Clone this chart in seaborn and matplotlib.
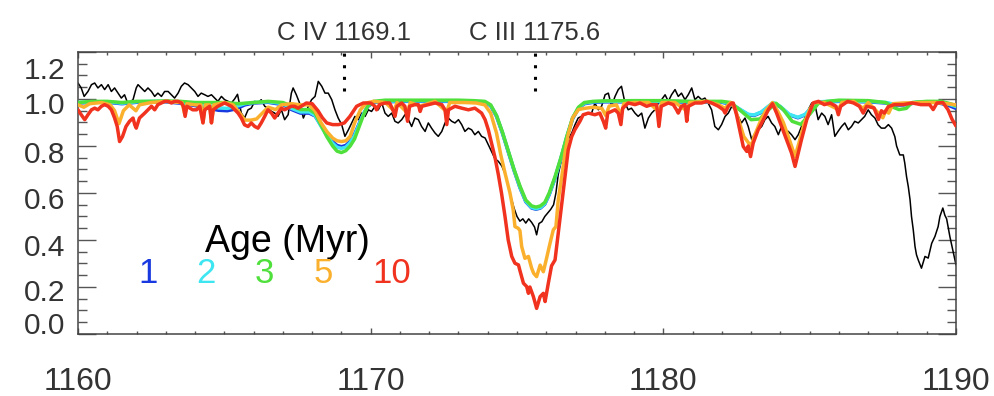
import numpy as np
import pandas as pd
import matplotlib
matplotlib.use("Agg")
import matplotlib.pyplot as plt
import seaborn as sns
from matplotlib.ticker import MultipleLocator
from matplotlib.transforms import ScaledTranslation

# --------------------------------------------
# Data
# --------------------------------------------
ages = [1, 2, 3, 5, 10]
age_colors = ["#1838e0", "#3ee6f2", "#4fe03c", "#fbb02d", "#f0321e"]

line_names = ["C IV", "C III"]
line_waves = [1169.1, 1175.6]

x_ticks = [1160, 1170, 1180, 1190]
y_ticks = [0.0, 0.2, 0.4, 0.6, 0.8, 1.0, 1.2]

# observed spectrum (black)
obs_wave = [
    1160.00, 1160.11, 1160.21, 1160.34, 1160.46, 1160.57, 1160.68, 1160.80, 1160.91, 1161.03,
    1161.14, 1161.25, 1161.37, 1161.48, 1161.59, 1161.69, 1161.80, 1161.88, 1161.99, 1162.05,
    1162.16, 1162.28, 1162.39, 1162.51, 1162.62, 1162.73, 1162.85, 1162.96, 1163.08, 1163.19,
    1163.30, 1163.42, 1163.53, 1163.64, 1163.76, 1163.87, 1163.99, 1164.10, 1164.21, 1164.33,
    1164.44, 1164.56, 1164.67, 1164.78, 1164.90, 1165.01, 1165.13, 1165.24, 1165.35, 1165.45,
    1165.58, 1165.69, 1165.81, 1165.92, 1166.04, 1166.15, 1166.26, 1166.38, 1166.49, 1166.61,
    1166.72, 1166.83, 1166.95, 1167.06, 1167.18, 1167.29, 1167.35, 1167.46, 1167.57, 1167.70,
    1167.87, 1167.98, 1168.10, 1168.21, 1168.33, 1168.44, 1168.55, 1168.67, 1168.78, 1168.89,
    1169.01, 1169.12, 1169.24, 1169.35, 1169.46, 1169.58, 1169.69, 1169.81, 1169.92, 1170.03,
    1170.15, 1170.26, 1170.38, 1170.49, 1170.60, 1170.72, 1170.83, 1170.94, 1171.06, 1171.17,
    1171.29, 1171.40, 1171.51, 1171.63, 1171.74, 1171.86, 1171.97, 1172.08, 1172.20, 1172.31,
    1172.43, 1172.54, 1172.65, 1172.77, 1172.88, 1173.00, 1173.11, 1173.22, 1173.34, 1173.45,
    1173.56, 1173.68, 1173.79, 1173.91, 1174.02, 1174.13, 1174.25, 1174.36, 1174.48, 1174.60,
    1174.70, 1174.80, 1174.90, 1175.00, 1175.10, 1175.20, 1175.30, 1175.40, 1175.50, 1175.60,
    1175.67, 1175.75, 1175.85, 1175.95, 1176.05, 1176.15, 1176.25, 1176.33, 1176.41, 1176.52,
    1176.64, 1176.75, 1176.87, 1176.98, 1177.09, 1177.20, 1177.32, 1177.44, 1177.55, 1177.66,
    1177.78, 1177.89, 1178.01, 1178.12, 1178.23, 1178.35, 1178.46, 1178.57, 1178.69, 1178.80,
    1178.91, 1179.03, 1179.14, 1179.26, 1179.37, 1179.49, 1179.60, 1179.71, 1179.83, 1179.94,
    1180.06, 1180.17, 1180.28, 1180.40, 1180.51, 1180.62, 1180.74, 1180.85, 1180.97, 1181.08,
    1181.19, 1181.31, 1181.42, 1181.53, 1181.65, 1181.76, 1181.88, 1181.99, 1182.11, 1182.22,
    1182.34, 1182.45, 1182.56, 1182.67, 1182.79, 1182.90, 1183.02, 1183.13, 1183.24, 1183.36,
    1183.47, 1183.58, 1183.70, 1183.81, 1183.93, 1184.04, 1184.15, 1184.27, 1184.38, 1184.50,
    1184.61, 1184.72, 1184.84, 1184.95, 1185.07, 1185.18, 1185.29, 1185.41, 1185.52, 1185.63,
    1185.75, 1185.86, 1185.97, 1186.09, 1186.20, 1186.32, 1186.43, 1186.54, 1186.66, 1186.77,
    1186.88, 1187.00, 1187.11, 1187.23, 1187.34, 1187.45, 1187.57, 1187.69, 1187.80, 1187.91,
    1187.97, 1188.03, 1188.08, 1188.20, 1188.25, 1188.31, 1188.37, 1188.43, 1188.48, 1188.54,
    1188.60, 1188.65, 1188.71, 1188.82, 1188.94, 1189.05, 1189.17, 1189.28, 1189.39, 1189.45,
    1189.55, 1189.62, 1189.68, 1189.79, 1189.91, 1190.00,
]
obs_flux = [
    1.068, 1.047, 1.011, 1.032, 1.061, 1.068, 1.047, 1.061, 1.040, 1.061,
    1.032, 1.047, 1.025, 1.004, 1.018, 0.985, 0.990, 0.997, 1.047, 1.061,
    1.047, 1.032, 1.047, 1.032, 1.011, 1.025, 1.011, 1.032, 1.032, 1.018,
    1.004, 1.025, 1.054, 1.068, 1.061, 1.047, 1.032, 1.011, 1.025, 1.018,
    1.011, 1.018, 1.004, 0.990, 1.011, 0.997, 0.990, 0.983, 1.000, 1.020,
    0.940, 0.919, 0.954, 0.961, 0.990, 0.983, 0.997, 0.969, 0.961, 0.947,
    0.940, 0.926, 0.954, 0.912, 0.933, 1.025, 1.047, 1.018, 0.983, 0.919,
    0.969, 0.997, 1.011, 1.075, 1.054, 1.025, 1.025, 0.997, 0.954, 0.919,
    0.891, 0.841, 0.869, 0.898, 0.926, 0.912, 0.940, 0.926, 0.954, 0.947,
    0.969, 0.954, 0.983, 0.940, 0.926, 0.940, 0.905, 0.898, 0.912, 0.933,
    0.912, 0.883, 0.919, 0.912, 0.883, 0.862, 0.898, 0.876, 0.855, 0.841,
    0.862, 0.898, 0.919, 0.905, 0.898, 0.912, 0.891, 0.862, 0.876, 0.869,
    0.848, 0.862, 0.841, 0.834, 0.805, 0.777, 0.745, 0.735, 0.715, 0.680,
    0.630, 0.580, 0.535, 0.500, 0.480, 0.490, 0.472, 0.490, 0.475, 0.455,
    0.422, 0.470, 0.478, 0.500, 0.515, 0.530, 0.550, 0.600, 0.680, 0.740,
    0.798, 0.830, 0.855, 0.890, 0.919, 0.926, 0.933, 0.937, 0.940, 0.983,
    0.954, 0.969, 1.018, 1.025, 0.969, 1.011, 1.040, 1.054, 0.983, 0.954,
    0.961, 0.940, 0.926, 0.940, 0.876, 0.919, 0.940, 0.954, 0.983, 0.997,
    1.018, 0.990, 1.018, 1.040, 1.011, 1.025, 0.997, 1.018, 1.047, 0.997,
    1.011, 0.997, 1.004, 0.983, 0.954, 0.883, 0.869, 0.891, 0.926, 0.940,
    0.969, 0.954, 0.926, 0.898, 0.919, 0.883, 0.827, 0.855, 0.869, 0.883,
    0.912, 0.926, 0.898, 0.883, 0.848, 0.883, 0.869, 0.862, 0.848, 0.827,
    0.848, 0.883, 0.919, 0.954, 0.983, 0.976, 0.912, 0.940, 0.926, 0.891,
    0.933, 0.841, 0.862, 0.883, 0.898, 0.869, 0.883, 0.905, 0.898, 0.912,
    0.926, 0.954, 0.933, 0.919, 0.890, 0.876, 0.876, 0.891, 0.876, 0.840,
    0.800, 0.780, 0.762, 0.762, 0.727, 0.670, 0.627, 0.571, 0.500, 0.443,
    0.372, 0.337, 0.315, 0.280, 0.330, 0.323, 0.386, 0.415, 0.457, 0.500,
    0.536, 0.505, 0.490, 0.415, 0.345, 0.294,
]

# model spectra, one pair of lists per age
blue_wave = [
    1160.0, 1160.5, 1161.0, 1161.5, 1162.0, 1162.5, 1163.0, 1163.5, 1164.0, 1164.4,
    1164.8, 1165.1, 1165.4, 1165.7, 1166.0, 1166.5, 1167.0, 1167.3, 1167.6, 1167.9,
    1168.1, 1168.3, 1168.5, 1168.7, 1168.85, 1169.0, 1169.15, 1169.3, 1169.45, 1169.6,
    1169.75, 1169.9, 1170.1, 1171.0, 1172.0, 1173.0, 1173.5, 1173.9, 1174.1, 1174.3,
    1174.5, 1174.7, 1174.9, 1175.1, 1175.3, 1175.5, 1175.65, 1175.8, 1175.95, 1176.1,
    1176.3, 1176.5, 1176.7, 1176.9, 1177.1, 1177.3, 1177.6, 1178.0, 1179.0, 1180.0,
    1181.0, 1182.0, 1182.3, 1182.6, 1182.9, 1183.1, 1183.35, 1183.6, 1183.75, 1184.0,
    1184.3, 1184.6, 1184.85, 1185.1, 1185.3, 1186.0, 1187.0, 1187.6, 1188.0, 1188.3,
    1188.7, 1189.3, 1189.7, 1190.0,
]
blue_flux = [
    0.983, 0.986, 0.986, 0.980, 0.986, 0.988, 0.988, 0.982, 0.972, 0.962,
    0.952, 0.950, 0.958, 0.975, 0.983, 0.986, 0.976, 0.955, 0.940, 0.940,
    0.928, 0.888, 0.850, 0.818, 0.802, 0.797, 0.802, 0.820, 0.850, 0.893,
    0.936, 0.968, 0.986, 0.990, 0.990, 0.990, 0.988, 0.986, 0.971, 0.926,
    0.856, 0.776, 0.696, 0.623, 0.563, 0.536, 0.531, 0.536, 0.553, 0.593,
    0.663, 0.746, 0.836, 0.916, 0.960, 0.980, 0.986, 0.988, 0.988, 0.988,
    0.986, 0.986, 0.978, 0.956, 0.933, 0.930, 0.943, 0.968, 0.983, 0.966,
    0.933, 0.920, 0.933, 0.968, 0.986, 0.990, 0.988, 0.983, 0.973, 0.976,
    0.986, 0.986, 0.975, 0.960,
]

cyan_wave = [
    1160.0, 1160.5, 1161.0, 1161.5, 1162.0, 1162.5, 1163.0, 1163.5, 1164.0, 1164.5,
    1164.8, 1165.1, 1165.4, 1165.7, 1166.0, 1166.5, 1167.0, 1167.3, 1167.6, 1167.9,
    1168.1, 1168.3, 1168.5, 1168.7, 1168.85, 1169.0, 1169.15, 1169.3, 1169.45, 1169.6,
    1169.75, 1169.9, 1170.1, 1171.0, 1172.0, 1173.0, 1173.5, 1173.9, 1174.1, 1174.3,
    1174.5, 1174.7, 1174.9, 1175.1, 1175.3, 1175.5, 1175.65, 1175.8, 1175.95, 1176.1,
    1176.3, 1176.5, 1176.7, 1176.9, 1177.1, 1177.3, 1177.6, 1178.0, 1179.0, 1180.0,
    1181.0, 1182.0, 1182.3, 1182.6, 1182.9, 1183.1, 1183.35, 1183.6, 1183.75, 1184.0,
    1184.3, 1184.6, 1184.85, 1185.1, 1185.3, 1186.0, 1187.0, 1187.6, 1188.0, 1188.3,
    1188.7, 1189.3, 1189.7, 1190.0,
]
cyan_flux = [
    0.985, 0.988, 0.988, 0.982, 0.988, 0.990, 0.990, 0.985, 0.978, 0.972,
    0.962, 0.960, 0.968, 0.980, 0.985, 0.988, 0.980, 0.960, 0.945, 0.945,
    0.930, 0.885, 0.845, 0.812, 0.795, 0.790, 0.795, 0.815, 0.845, 0.890,
    0.935, 0.970, 0.988, 0.992, 0.992, 0.992, 0.990, 0.988, 0.973, 0.928,
    0.858, 0.778, 0.698, 0.625, 0.565, 0.538, 0.533, 0.538, 0.555, 0.595,
    0.665, 0.748, 0.838, 0.918, 0.962, 0.982, 0.988, 0.990, 0.990, 0.990,
    0.988, 0.988, 0.980, 0.958, 0.935, 0.932, 0.945, 0.970, 0.985, 0.968,
    0.935, 0.922, 0.935, 0.970, 0.988, 0.992, 0.990, 0.985, 0.975, 0.978,
    0.988, 0.988, 0.980, 0.968,
]

green_wave = [
    1160.0, 1160.5, 1161.0, 1161.5, 1162.0, 1162.5, 1163.0, 1163.5, 1164.0, 1164.5,
    1165.0, 1165.5, 1166.0, 1166.5, 1167.0, 1167.3, 1167.6, 1167.9, 1168.1, 1168.3,
    1168.5, 1168.7, 1168.85, 1169.0, 1169.15, 1169.3, 1169.45, 1169.6, 1169.75, 1169.9,
    1170.1, 1170.5, 1171.0, 1172.0, 1173.0, 1173.5, 1173.9, 1174.1, 1174.3, 1174.5,
    1174.7, 1174.9, 1175.1, 1175.3, 1175.5, 1175.65, 1175.8, 1175.95, 1176.1, 1176.3,
    1176.5, 1176.7, 1176.9, 1177.1, 1177.3, 1177.6, 1178.0, 1179.0, 1180.0, 1181.0,
    1182.0, 1182.3, 1182.6, 1183.0, 1183.3, 1183.6, 1183.85, 1184.1, 1184.4, 1184.7,
    1185.0, 1185.3, 1185.6, 1186.0, 1187.0, 1187.6, 1187.85, 1188.05, 1188.3, 1188.5,
    1189.0, 1189.5, 1189.8, 1190.0,
]
green_flux = [
    0.985, 0.990, 0.990, 0.985, 0.990, 0.990, 0.992, 0.990, 0.985, 0.985,
    0.985, 0.980, 0.985, 0.990, 0.985, 0.970, 0.955, 0.955, 0.940, 0.890,
    0.840, 0.800, 0.778, 0.772, 0.780, 0.800, 0.830, 0.880, 0.930, 0.970,
    0.990, 0.995, 0.995, 0.995, 0.995, 0.993, 0.990, 0.975, 0.930, 0.860,
    0.780, 0.700, 0.630, 0.570, 0.545, 0.540, 0.545, 0.560, 0.600, 0.670,
    0.750, 0.840, 0.920, 0.965, 0.985, 0.990, 0.992, 0.993, 0.993, 0.990,
    0.990, 0.985, 0.955, 0.912, 0.915, 0.955, 0.982, 0.955, 0.905, 0.892,
    0.935, 0.982, 0.990, 0.995, 0.993, 0.985, 0.965, 0.955, 0.960, 0.985,
    0.990, 0.990, 0.980, 0.972,
]

orange_wave = [
    1160.00, 1160.20, 1160.40, 1160.80, 1161.10, 1161.25, 1161.40, 1161.55, 1161.75, 1161.98,
    1162.10, 1162.50, 1163.00, 1163.55, 1163.65, 1163.72, 1164.00, 1164.20, 1164.27, 1164.35,
    1164.50, 1164.56, 1164.64, 1165.00, 1165.30, 1165.50, 1165.70, 1165.90, 1166.10, 1166.30,
    1166.50, 1166.75, 1166.95, 1167.30, 1167.60, 1167.90, 1168.10, 1168.30, 1168.50, 1168.70,
    1168.85, 1169.00, 1169.15, 1169.30, 1169.45, 1169.65, 1169.85, 1170.10, 1170.50, 1170.80,
    1170.90, 1171.26, 1171.35, 1171.70, 1172.20, 1172.60, 1172.70, 1173.20, 1173.60, 1173.90,
    1174.10, 1174.30, 1174.45, 1174.60, 1174.76, 1174.87, 1174.93, 1175.04, 1175.10, 1175.16,
    1175.27, 1175.39, 1175.50, 1175.57, 1175.67, 1175.79, 1175.90, 1176.01, 1176.13, 1176.24,
    1176.33, 1176.41, 1176.53, 1176.64, 1176.75, 1176.90, 1177.10, 1177.30, 1177.60, 1177.90,
    1178.03, 1178.15, 1178.40, 1178.55, 1178.65, 1179.00, 1179.50, 1179.85, 1179.95, 1180.40,
    1180.80, 1180.90, 1181.50, 1181.90, 1182.10, 1182.30, 1182.45, 1182.60, 1182.75, 1182.90,
    1183.00, 1183.10, 1183.30, 1183.50, 1183.73, 1183.90, 1184.10, 1184.30, 1184.50, 1184.65,
    1184.80, 1185.00, 1185.15, 1185.50, 1185.98, 1186.10, 1186.50, 1186.83, 1187.00, 1187.35,
    1187.50, 1187.60, 1187.70, 1187.85, 1188.20, 1188.80, 1189.30, 1189.70, 1190.00,
]
orange_flux = [
    0.975, 0.965, 0.980, 0.985, 0.975, 0.950, 0.895, 0.950, 0.975, 0.950,
    0.975, 0.985, 0.990, 0.985, 0.935, 0.980, 0.975, 0.975, 0.900, 0.975,
    0.975, 0.900, 0.975, 0.985, 0.975, 0.945, 0.910, 0.910, 0.915, 0.940,
    0.965, 0.955, 0.975, 0.980, 0.975, 0.975, 0.950, 0.900, 0.862, 0.834,
    0.822, 0.819, 0.822, 0.841, 0.898, 0.954, 0.983, 0.990, 0.985, 0.950,
    0.985, 0.940, 0.985, 0.970, 0.990, 0.945, 0.985, 0.985, 0.983, 0.975,
    0.940, 0.855, 0.760, 0.680, 0.600, 0.528, 0.457, 0.450, 0.440, 0.372,
    0.322, 0.330, 0.280, 0.258, 0.244, 0.293, 0.265, 0.322, 0.387, 0.443,
    0.457, 0.571, 0.670, 0.770, 0.850, 0.920, 0.955, 0.960, 0.965, 0.960,
    0.930, 0.970, 0.975, 0.930, 0.980, 0.985, 0.985, 0.945, 0.985, 0.985,
    0.950, 0.985, 0.990, 0.975, 0.960, 0.985, 0.960, 0.900, 0.840, 0.815,
    0.800, 0.840, 0.900, 0.950, 0.985, 0.950, 0.900, 0.830, 0.755, 0.820,
    0.890, 0.955, 0.985, 0.985, 0.955, 0.985, 0.990, 0.960, 0.985, 0.940,
    0.920, 0.950, 0.940, 0.980, 0.983, 0.985, 0.985, 0.980, 0.975,
]

red_wave = [
    1160.00, 1160.11, 1160.23, 1160.34, 1160.46, 1160.57, 1160.68, 1160.80, 1160.91, 1161.03,
    1161.14, 1161.25, 1161.34, 1161.42, 1161.52, 1161.64, 1161.76, 1161.88, 1161.94, 1161.99,
    1162.10, 1162.28, 1162.39, 1162.51, 1162.62, 1162.73, 1162.85, 1162.96, 1163.08, 1163.19,
    1163.30, 1163.42, 1163.53, 1163.60, 1163.66, 1163.72, 1163.92, 1164.05, 1164.16, 1164.27,
    1164.33, 1164.50, 1164.56, 1164.62, 1164.78, 1165.01, 1165.24, 1165.47, 1165.58, 1165.69,
    1165.81, 1165.92, 1166.04, 1166.15, 1166.26, 1166.38, 1166.49, 1166.61, 1166.72, 1166.83,
    1166.95, 1167.06, 1167.29, 1167.40, 1167.52, 1167.63, 1167.80, 1168.00, 1168.20, 1168.35,
    1168.50, 1168.70, 1168.90, 1169.10, 1169.29, 1169.52, 1169.75, 1170.00, 1170.15, 1170.20,
    1170.30, 1170.49, 1170.65, 1170.77, 1170.83, 1170.90, 1171.06, 1171.17, 1171.26, 1171.33,
    1171.51, 1171.63, 1171.69, 1171.75, 1171.97, 1172.20, 1172.43, 1172.54, 1172.60, 1172.66,
    1172.88, 1173.11, 1173.34, 1173.56, 1173.79, 1173.91, 1174.02, 1174.13, 1174.25, 1174.36,
    1174.47, 1174.59, 1174.70, 1174.82, 1174.93, 1175.05, 1175.10, 1175.22, 1175.33, 1175.39,
    1175.44, 1175.56, 1175.67, 1175.79, 1175.90, 1175.96, 1176.07, 1176.18, 1176.30, 1176.41,
    1176.53, 1176.64, 1176.75, 1176.87, 1176.98, 1177.15, 1177.26, 1177.44, 1177.66, 1177.83,
    1177.95, 1178.03, 1178.10, 1178.35, 1178.46, 1178.55, 1178.61, 1178.80, 1179.03, 1179.20,
    1179.43, 1179.60, 1179.77, 1179.85, 1179.93, 1180.17, 1180.34, 1180.45, 1180.51, 1180.62,
    1180.74, 1180.80, 1180.86, 1181.08, 1181.31, 1181.48, 1181.65, 1181.88, 1182.05, 1182.11,
    1182.22, 1182.34, 1182.39, 1182.50, 1182.62, 1182.73, 1182.85, 1182.90, 1182.98, 1183.07,
    1183.24, 1183.42, 1183.59, 1183.73, 1183.87, 1184.04, 1184.21, 1184.38, 1184.50, 1184.61,
    1184.72, 1184.90, 1185.12, 1185.30, 1185.50, 1185.70, 1185.90, 1185.98, 1186.06, 1186.30,
    1186.50, 1186.70, 1186.83, 1186.95, 1187.20, 1187.35, 1187.45, 1187.55, 1187.69, 1187.90,
    1188.20, 1188.50, 1188.80, 1189.10, 1189.22, 1189.35, 1189.55, 1189.73, 1189.86, 1190.00,
]
red_flux = [
    0.954, 0.933, 0.912, 0.933, 0.954, 0.961, 0.954, 0.969, 0.976, 0.969,
    0.954, 0.919, 0.883, 0.819, 0.840, 0.883, 0.905, 0.919, 0.890, 0.876,
    0.919, 0.940, 0.954, 0.969, 0.954, 0.976, 0.983, 0.990, 0.990, 0.983,
    0.990, 0.990, 0.983, 0.969, 0.926, 0.969, 0.954, 0.954, 0.969, 0.898,
    0.954, 0.969, 0.898, 0.954, 0.969, 0.983, 0.969, 0.940, 0.919, 0.890,
    0.883, 0.898, 0.883, 0.876, 0.898, 0.926, 0.954, 0.940, 0.919, 0.940,
    0.961, 0.954, 0.969, 0.969, 0.961, 0.969, 0.983, 0.980, 0.950, 0.920,
    0.898, 0.891, 0.891, 0.898, 0.926, 0.969, 0.983, 0.983, 0.969, 0.954,
    0.976, 0.983, 0.983, 0.950, 0.926, 0.969, 0.983, 0.969, 0.905, 0.969,
    0.976, 0.976, 0.947, 0.969, 0.976, 0.983, 0.976, 0.954, 0.891, 0.954,
    0.969, 0.961, 0.954, 0.961, 0.940, 0.912, 0.869, 0.812, 0.750, 0.680,
    0.600, 0.500, 0.400, 0.330, 0.301, 0.294, 0.270, 0.216, 0.202, 0.173,
    0.200, 0.159, 0.109, 0.159, 0.173, 0.138, 0.216, 0.290, 0.315, 0.430,
    0.557, 0.670, 0.784, 0.840, 0.870, 0.905, 0.933, 0.940, 0.933, 0.940,
    0.905, 0.876, 0.940, 0.954, 0.940, 0.891, 0.960, 0.983, 0.976, 0.983,
    0.969, 0.976, 0.976, 0.883, 0.969, 0.983, 0.976, 0.954, 0.940, 0.969,
    0.976, 0.905, 0.969, 0.983, 0.983, 0.990, 0.983, 0.969, 0.954, 0.940,
    0.969, 0.983, 0.983, 0.933, 0.862, 0.798, 0.777, 0.800, 0.755, 0.812,
    0.869, 0.912, 0.955, 0.980, 0.940, 0.883, 0.827, 0.770, 0.713, 0.770,
    0.827, 0.912, 0.983, 0.990, 0.976, 0.983, 0.969, 0.933, 0.969, 0.990,
    0.983, 0.969, 0.940, 0.969, 0.962, 0.913, 0.950, 0.940, 0.968, 0.976,
    0.976, 0.983, 0.976, 0.976, 0.955, 0.983, 0.985, 0.954, 0.915, 0.885,
]

model_waves = [blue_wave, cyan_wave, green_wave, orange_wave, red_wave]
model_fluxes = [blue_flux, cyan_flux, green_flux, orange_flux, red_flux]

# --------------------------------------------
# Build tables
# --------------------------------------------
models = pd.concat(
    [pd.DataFrame({"wave": w, "flux": f, "age": a})
     for a, w, f in zip(ages, model_waves, model_fluxes)],
    ignore_index=True,
)
obs = pd.DataFrame({"wave": obs_wave, "flux": obs_flux})

# --------------------------------------------
# Plot
# --------------------------------------------
sns.set_theme(style="ticks")
plt.rcParams["font.family"] = ["Liberation Sans", "DejaVu Sans"]

fig = plt.figure(figsize=(9.95, 3.96), dpi=100)
ax = fig.add_axes([0.0784, 0.1566, 0.8824, 0.7121])

sns.lineplot(data=obs, x="wave", y="flux", color="black", lw=1.1,
             estimator=None, sort=False, ax=ax, zorder=2)
sns.lineplot(data=models, x="wave", y="flux", hue="age", hue_order=ages,
             palette=dict(zip(ages, age_colors)), lw=2.5, estimator=None,
             sort=False, legend=False, ax=ax, zorder=3)

ax.set_xlim(1160, 1190)
ax.set_ylim(0, 1.2)
ax.set_xlabel("")
ax.set_ylabel("")

# line markers and labels above the frame
for name, w in zip(line_names, line_waves):
    ax.axvline(w, ymin=0.862, ymax=1.0, color="black", lw=2.2,
               ls=(0, (1, 2.8)), zorder=4)
    ax.annotate(f"{name} {w}", xy=(w, 1.067), xycoords=("data", "axes fraction"),
                ha="center", va="center", fontsize=18.5, color="#333333",
                annotation_clip=False)

# age legend written as text
ax.text(1167.17, 0.392, "Age (Myr)", fontsize=27, color="black",
        ha="center", va="center")
for i, (a, c) in enumerate(zip(ages, age_colors)):
    ax.text(1162.05 + 2.0 * i, 0.256, str(a), fontsize=25, color=c,
            ha="left", va="center")

# axes frame and ticks
for s in ax.spines.values():
    s.set_color("#444444")
    s.set_linewidth(1.1)

ax.set_xticks(x_ticks)
ax.set_yticks(y_ticks)
ax.set_yticklabels([f"{v:.1f}" for v in y_ticks])
ax.xaxis.set_minor_locator(MultipleLocator(1))
ax.yaxis.set_minor_locator(MultipleLocator(0.05))
ax.tick_params(which="both", direction="in", top=True, right=True,
               color="#555555", width=1.0, labelcolor="#333333")
ax.tick_params(axis="x", which="major", length=4.5, labelsize=23, pad=24)
ax.tick_params(axis="x", which="minor", length=2.2)
ax.tick_params(axis="y", which="major", length=13, labelsize=21.5, pad=9)
ax.tick_params(axis="y", which="minor", length=6.5)

# nudge y labels like the original (end labels kept inside the frame), in pixels
label_shift_px = [11, -3, -5, -5, -6, -4, -16]
for lab, dy in zip(ax.get_yticklabels(), label_shift_px):
    lab.set_transform(lab.get_transform() + ScaledTranslation(0, dy / 100, fig.dpi_scale_trans))

fig.savefig("out.png", dpi=100)
